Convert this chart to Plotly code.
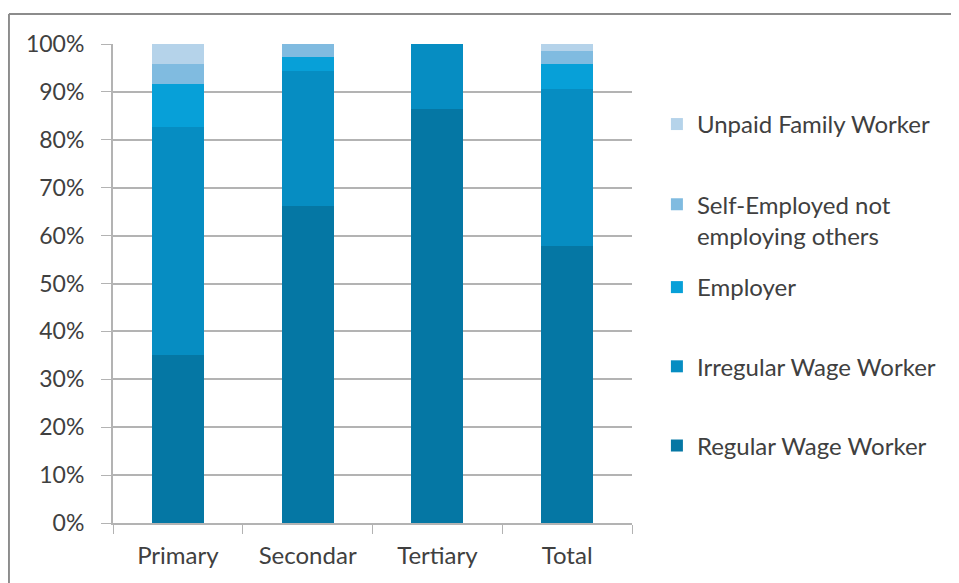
import plotly.graph_objects as go

categories = ["Primary", "Secondar", "Tertiary", "Total"]
series_names = ["Regular Wage Worker", "Irregular Wage Worker", "Employer",
                "Self-Employed not<br>employing others", "Unpaid Family Worker"]
regular = [35.1, 66.2, 86.4, 57.8]
irregular = [47.5, 28.2, 13.6, 32.8]
employer = [9.0, 2.8, 0.0, 5.2]
self_employed = [4.2, 2.8, 0.0, 2.8]
unpaid = [4.2, 0.0, 0.0, 1.4]
colors = ["#0577A4", "#068DC2", "#07A0D8", "#80BBE0", "#B5D3EA"]
y_ticks = [0, 10, 20, 30, 40, 50, 60, 70, 80, 90, 100]

values = [regular, irregular, employer, self_employed, unpaid]
legend_of = ["legend2", "legend2", "legend2", "legend", "legend"]
fig = go.Figure()
for i, (name, vals, col) in enumerate(zip(series_names, values, colors)):
    fig.add_trace(go.Bar(x=categories, y=vals, name=name, marker_color=col,
                         marker_line_width=0, legendgroup=str(i),
                         legendrank=10 - i, legend=legend_of[i]))

font_family = "Lato, 'Open Sans', sans-serif"
txt = "#404040"
leg_common = dict(xanchor="left", yanchor="top", traceorder="grouped",
                  font=dict(size=24, color=txt, family=font_family),
                  itemwidth=30, valign="top", bgcolor="rgba(0,0,0,0)")
fig.update_layout(
    barmode="stack",
    bargap=0.6,
    width=951, height=575,
    margin=dict(l=105, r=327, t=36, b=60),
    paper_bgcolor="white", plot_bgcolor="white",
    font=dict(family=font_family, size=24, color=txt),
    legend=dict(x=1.048, y=0.879, tracegroupgap=46, **leg_common),
    legend2=dict(x=1.048, y=0.5386, tracegroupgap=45, **leg_common),
    showlegend=True,
)
fig.update_yaxes(range=[0, 100], tickvals=y_ticks,
                 ticktext=[f"{v}%" for v in y_ticks],
                 showgrid=True, gridcolor="#B3B3B3", gridwidth=1.5,
                 ticks="outside", ticklen=10, tickcolor="#B3B3B3",
                 showline=True, linecolor="#B3B3B3", linewidth=2,
                 zeroline=False, ticklabelstandoff=12,
                 tickfont=dict(size=23, color=txt))
fig.update_xaxes(tickson="boundaries", ticks="outside", ticklen=9,
                 tickcolor="#B3B3B3", showline=True, linecolor="#B3B3B3",
                 linewidth=1.5, ticklabelstandoff=10,
                 tickfont=dict(size=24, color=txt))
# outer chart frame: top and left edges (the others run off the picture)
fig.add_shape(type="line", xref="paper", yref="paper",
              x0=-0.2005, y0=1.0626, x1=1.8, y1=1.0626,
              line=dict(color="#8C8C8C", width=2), layer="below")
fig.add_shape(type="line", xref="paper", yref="paper",
              x0=-0.2005, y0=1.0626, x1=-0.2005, y1=-0.3,
              line=dict(color="#8C8C8C", width=2), layer="below")
fig.write_html("out.html")
